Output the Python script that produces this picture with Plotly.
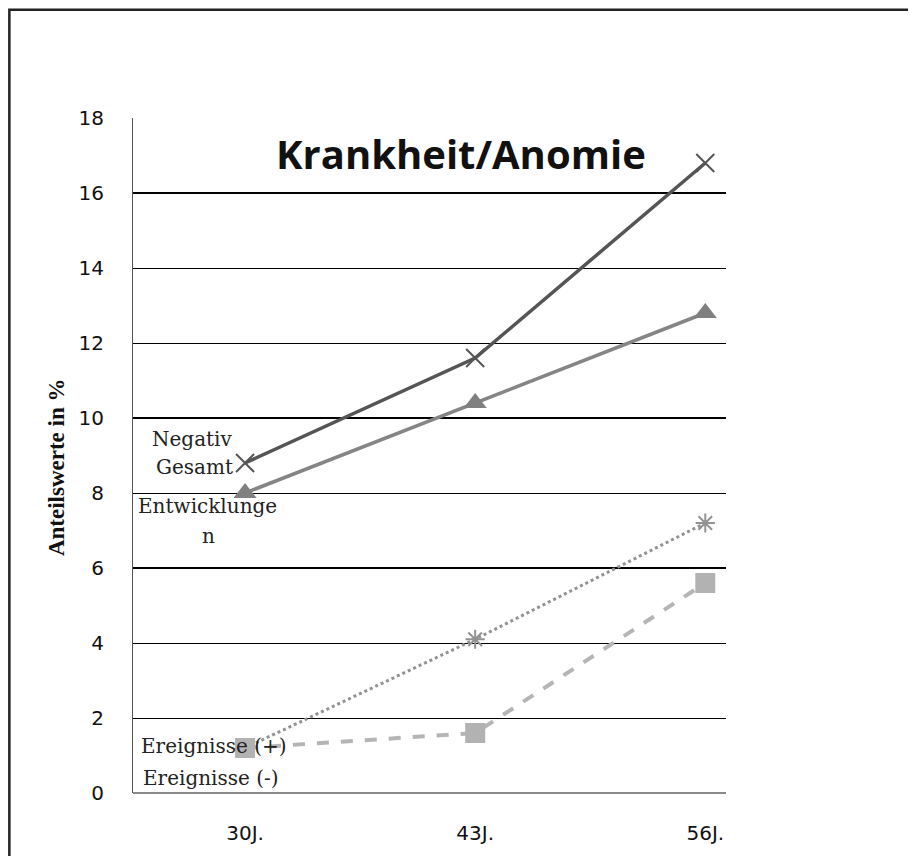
import plotly.graph_objects as go

# data
ages = ["30J.", "43J.", "56J."]
x_pos = [0, 1, 2]
negativ_gesamt = [8.8, 11.6, 16.8]
entwicklungen = [8.0, 10.4, 12.8]
ereignisse_plus = [1.2, 4.1, 7.2]
ereignisse_minus = [1.2, 1.6, 5.6]
y_ticks = [0, 2, 4, 6, 8, 10, 12, 14, 16, 18]

SERIF = "DejaVu Serif, Liberation Serif, serif"
SANS = "DejaVu Sans, sans-serif"
TITLE_FONT = "Open Sans, Noto Sans, sans-serif"

fig = go.Figure()

fig.add_trace(go.Scatter(
    x=x_pos, y=ereignisse_plus, mode="lines+markers", name="Ereignisse (+)",
    line=dict(color="#929292", width=3, dash="dot"),
    marker=dict(symbol="asterisk-open", size=16, line=dict(color="#8a8a8a", width=2))
))
fig.add_trace(go.Scatter(
    x=x_pos, y=ereignisse_minus, mode="lines+markers", name="Ereignisse (-)",
    line=dict(color="#b5b5b5", width=4, dash="dash"),
    marker=dict(symbol="square", size=20, color="#b2b2b2")
))
fig.add_trace(go.Scatter(
    x=x_pos, y=entwicklungen, mode="lines+markers", name="Entwicklungen",
    line=dict(color="#858585", width=3.5),
    marker=dict(symbol="triangle-up", size=20, color="#808080")
))
fig.add_trace(go.Scatter(
    x=x_pos, y=negativ_gesamt, mode="lines+markers", name="Negativ Gesamt",
    line=dict(color="#555555", width=3.5),
    marker=dict(symbol="x-thin-open", size=18, line=dict(color="#555555", width=2))
))

# frame around the whole picture (cut off at right and bottom)
fig.add_shape(type="rect", xref="paper", yref="paper",
              x0=-0.2085, x1=1.4, y0=-0.12, y1=1.1605,
              line=dict(color="#222222", width=2.5), layer="below")

# heavier grid lines as in the reference
for yv in [16, 10, 6]:
    fig.add_shape(type="line", xref="paper", yref="y", x0=0, x1=1, y0=yv, y1=yv,
                  line=dict(color="black", width=2.2), layer="below")

label_font = dict(family=SERIF, size=20, color="#222222")
fig.add_annotation(x=-0.23, y=9.45, xref="x", yref="y", text="Negativ",
                   showarrow=False, font=label_font)
fig.add_annotation(x=-0.22, y=8.7, xref="x", yref="y", text="Gesamt",
                   showarrow=False, font=label_font)
fig.add_annotation(x=-0.162, y=7.65, xref="x", yref="y", text="Entwicklunge",
                   showarrow=False, font=label_font)
fig.add_annotation(x=-0.16, y=6.85, xref="x", yref="y", text="n",
                   showarrow=False, font=label_font)
fig.add_annotation(x=-0.134, y=1.25, xref="x", yref="y", text="Ereignisse (+)",
                   showarrow=False, font=label_font)
fig.add_annotation(x=-0.147, y=0.4, xref="x", yref="y", text="Ereignisse (-)",
                   showarrow=False, font=label_font)

fig.add_annotation(x=0.125, y=17.05, xref="x", yref="y", text="<b>Krankheit/Anomie</b>",
                   showarrow=False, xanchor="left",
                   font=dict(family=TITLE_FONT, size=40, color="#111111"))

# y axis title as rotated annotation, placed like the reference
fig.add_annotation(x=-0.128, y=0.483, xref="paper", yref="paper",
                   xanchor="center", yanchor="middle",
                   text="<b>Anteilswerte in %</b>", textangle=-90, showarrow=False,
                   font=dict(family="Liberation Serif, serif", size=23, color="#111111"))

# the page body adds an 8px offset, margins compensate for it
fig.update_layout(
    width=916, height=856,
    margin=dict(l=125, r=198, t=110, b=71),
    paper_bgcolor="white", plot_bgcolor="white",
    showlegend=False,
    xaxis=dict(
        range=[-0.487, 2.09], tickvals=x_pos, ticktext=ages,
        showgrid=False, zeroline=False, showline=False, ticks="",
        ticklabelstandoff=26,
        tickfont=dict(family=SANS, size=20, color="#111111")
    ),
    yaxis=dict(
        range=[0, 18], tickvals=y_ticks,
        showgrid=True, gridcolor="black", gridwidth=1,
        zeroline=True, zerolinecolor="#8a8a8a", zerolinewidth=1.5,
        showline=True, linecolor="#555555", linewidth=1,
        ticks="", ticklabelstandoff=24,
        tickfont=dict(family=SANS, size=20, color="#111111")
    ),
)

fig.write_html("out.html")
